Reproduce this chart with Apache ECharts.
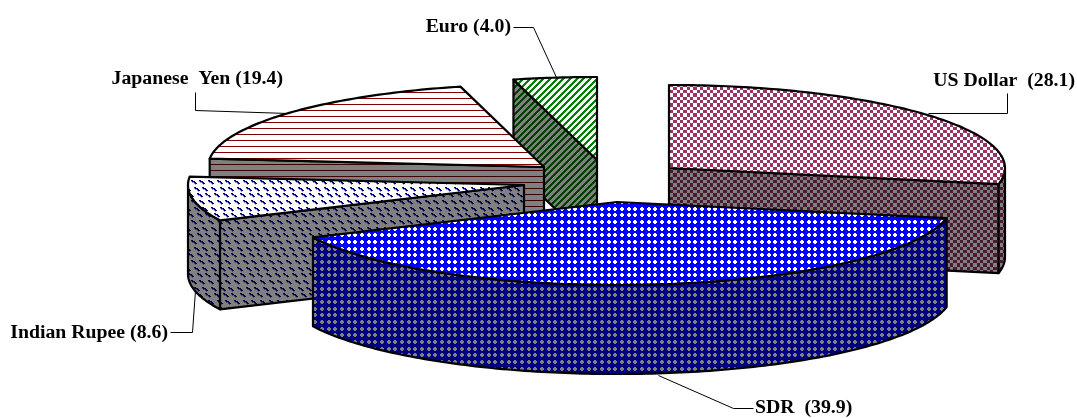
<!DOCTYPE html>
<html><head><meta charset="utf-8">
<style>html,body{margin:0;padding:0;background:#fff}#c{width:1077px;height:418px}</style>
<script src="https://cdn.jsdelivr.net/npm/echarts@6/dist/echarts.min.js"></script>
</head><body><div id="c"></div>
<script>
// ---- data ----
const categories = ['US Dollar', 'SDR', 'Indian Rupee', 'Japanese  Yen', 'Euro'];
const values = [28.1, 39.9, 8.6, 19.4, 4.0];
const labelGaps = ['  ', '  ', ' ', ' ', ' '];

// ---- layout (per slice, same order as the data) ----
const RX = 336, RY = 83, DEPTH = 89, START_ANGLE = 270;
const centres = [[669,168],[617,202],[524,185],[544,167],[597,160]];
const paintRank = [0,4,3,2,1];
const labelAnchors = [
  {x:1075,y:81,align:'right'},
  {x:755,y:408,align:'left'},
  {x:168,y:333,align:'right'},
  {x:283,y:79,align:'right'},
  {x:511,y:27,align:'right'}
];
const leaders = [
  [[1007,93],[1007,113],[928,113]],
  [[658,375],[733,408],[753,408]],
  [[170,332],[192,332],[195,290]],
  [[195,92],[195,110],[288,113]],
  [[513,27],[533,27],[556,77]]
];

// ---- pattern tiles (20px tiles hold three periods of 6.67px) ----
function tile(w,h,bg,paint){
  const c=document.createElement('canvas');c.width=w;c.height=h;
  const g=c.getContext('2d');g.fillStyle=bg;g.fillRect(0,0,w,h);
  paint(g);
  return {image:c,repeat:'repeat'};
}
const P=[0,7,13];
function checker(fg,bg){return tile(20,20,bg,g=>{
  const e=[0,3,7,10,13,17,20];g.fillStyle=fg;
  for(let i=0;i<6;i++)for(let j=0;j<6;j++)if((i+j)%2==0)g.fillRect(e[i],e[j],e[i+1]-e[i],e[j+1]-e[j]);
});}
function plus(dot,bg){return tile(20,20,bg,g=>{
  g.fillStyle=dot;
  for(const x of P)for(const y of P){g.fillRect(x+1,y,2,4);g.fillRect(x,y+1,4,2);}
});}
function dashes(fg,bg){return tile(26,20,bg,g=>{
  g.fillStyle=fg;
  const s=[[0,0],[1,1],[2,1],[3,2],[4,3]];
  const o=[[0,0],[9,0],[17,0],[3,7],[12,7],[20,7],[6,13],[15,13],[23,13]];
  o.forEach(q=>s.forEach(p=>{
    g.globalAlpha=1;g.fillRect((q[0]+p[0])%26,(q[1]+p[1])%20,2,1);
    g.globalAlpha=.4;g.fillRect((q[0]+p[0])%26,(q[1]+p[1]+1)%20,1,1);
  }));
  g.globalAlpha=1;
});}
function lines(fg,bg){return tile(6,6,bg,g=>{g.fillStyle=fg;g.fillRect(0,2,6,1);});}
function diag(fg,bg){return tile(20,20,bg,g=>{
  g.fillStyle=fg;
  for(let x=0;x<20;x++)for(let y=0;y<20;y++)if(((x+y)*3)%20<9)g.fillRect(x,y,1,1);
});}
const GREY='#808080',W='#ffffff';
const tops=[checker('#993366',W),plus(W,'#0000ff'),dashes('#000080',W),lines('#800000',W),diag('#008000',W)];
const walls=[checker('#4c1933',GREY),plus(GREY,'#000080'),dashes('#000040',GREY),lines('#400000',GREY),diag('#004000',GREY)];

// ---- geometry derived from the values ----
const total=values.reduce((a,b)=>a+b,0);
function sliceAngles(i){
  let a=START_ANGLE;
  for(let k=0;k<i;k++)a+=values[k]/total*360;
  return [a,a+values[i]/total*360];
}
const rad=d=>d*Math.PI/180;
function rim(c,deg,dy){return [c[0]+RX*Math.cos(rad(deg)),c[1]+RY*Math.sin(rad(deg))+(dy||0)];}
function arc(c,a,b,dy){const n=Math.max(2,Math.ceil(Math.abs(b-a)));const r=[];
  for(let k=0;k<=n;k++)r.push(rim(c,a+(b-a)*k/n,dy));return r;}
const OUT={stroke:'#000',lineWidth:2.2,lineJoin:'round'};
function poly(points,fill,z2){return {type:'polygon',z2,shape:{points},style:Object.assign({fill},OUT)};}

function renderItem(params,api){
  const i=params.dataIndex,c=centres[i],[a,b]=sliceAngles(i),z=paintRank[i]*10,kids=[];
  const face=(deg,off)=>{const p=rim(c,deg);
    kids.push(poly([c,p,[p[0],p[1]+DEPTH],[c[0],c[1]+DEPTH]],walls[i],z+off));};
  if(-Math.cos(rad(a))>1e-6)face(a,1);
  if(Math.cos(rad(b))>1e-6)face(b,1);
  for(let k=-1;k<=2;k++){
    const lo=Math.max(a,k*360),hi=Math.min(b,k*360+180);
    if(hi>lo){const up=arc(c,lo,hi,0),dn=arc(c,hi,lo,DEPTH);
      kids.push(poly(up.concat(dn),walls[i],z+2));}
  }
  kids.push(poly([c].concat(arc(c,a,b,0)),tops[i],z+3));
  kids.push({type:'polyline',z2:100,shape:{points:leaders[i].map(p=>[p[0]+.5,p[1]+.5])},
    style:{fill:'none',stroke:'#000',lineWidth:1}});
  const L=labelAnchors[i];
  kids.push({type:'text',z2:101,style:{
    x:L.x,y:L.y,text:categories[i]+labelGaps[i]+'('+api.value(0).toFixed(1)+')',
    align:L.align,verticalAlign:'middle',fill:'#000',
    font:'bold 19.8px "Liberation Serif","Times New Roman",serif'}});
  return {type:'group',children:kids};
}

const chart=echarts.init(document.getElementById('c'),null,{renderer:'canvas'});
chart.setOption({
  animation:false,backgroundColor:'#fff',
  series:[{type:'custom',coordinateSystem:'none',silent:true,clip:false,
    data:values.map((v,i)=>({name:categories[i],value:[v]})),
    renderItem}]
});
</script></body></html>
